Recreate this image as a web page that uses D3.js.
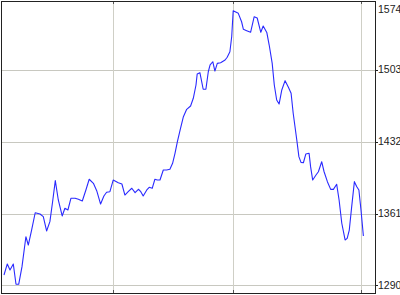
<!DOCTYPE html>
<html><head><meta charset="utf-8">
<script src="https://cdn.jsdelivr.net/npm/d3@7"></script>
<style>html,body{margin:0;padding:0;background:#fff;}svg{display:block;}</style>
</head><body>
<script>
// trading-day index of each vertex
const days = [1.0,2.1,3.0,4.1,5.0,5.9,7.0,8.3,9.1,10.2,11.4,13.0,14.1,15.2,16.3,17.2,18.1,19.1,20.4,21.3,22.3,23.3,24.7,25.8,27.1,28.3,29.4,30.8,31.9,33.2,34.3,35.2,36.3,37.4,39.1,40.3,41.3,42.4,43.6,44.7,45.8,46.6,47.4,48.6,49.4,50.4,51.3,52.1,53.0,54.1,55.2,56.3,57.2,58.0,58.8,59.7,60.8,61.9,63.2,64.1,65.0,65.4,66.3,67.4,68.3,69.1,69.7,70.6,71.3,72.1,73.2,74.7,75.4,76.3,76.9,77.4,79.1,80.2,80.8,81.9,83.2,84.4,85.4,86.6,87.4,88.6,89.4,90.4,91.1,91.9,92.7,93.6,94.7,95.8,96.7,97.4,98.6,99.3,100.0,100.8,101.6,102.7,103.2,103.9,105.0,105.8,106.9,107.7,108.8,109.9,110.8,111.9,112.7,113.6,114.7,115.4,116.1,116.9,117.8,118.6,119.3,120.0,120.8];
// index level at each vertex
const prices = [1300.3,1311.2,1305.2,1311.2,1291.1,1291.1,1308.5,1338.1,1329.9,1344.7,1361.8,1360.6,1357.9,1343.8,1353.0,1372.7,1393.5,1374.4,1358.6,1366.2,1364.5,1376.1,1376.1,1375.1,1373.4,1384.3,1394.9,1390.9,1383.6,1370.4,1378.3,1382.0,1382.6,1394.1,1391.5,1390.2,1379.3,1382.6,1386.0,1381.6,1385.0,1382.6,1378.3,1384.3,1386.9,1385.9,1394.9,1394.1,1394.1,1404.0,1404.0,1404.7,1410.6,1420.5,1432.0,1443.5,1456.7,1464.0,1467.3,1474.9,1488.0,1498.9,1500.2,1483.8,1483.8,1501.1,1507.8,1511.0,1501.8,1509.4,1510.0,1512.7,1515.4,1520.9,1535.7,1561.4,1558.8,1550.5,1543.0,1541.7,1540.1,1555.5,1554.2,1540.1,1546.3,1539.9,1527.5,1509.4,1488.0,1473.2,1469.2,1483.1,1492.3,1485.7,1479.8,1460.1,1433.7,1417.2,1411.6,1411.2,1419.8,1420.5,1407.3,1394.1,1399.1,1402.3,1412.2,1402.3,1392.5,1384.9,1384.9,1389.9,1374.4,1351.4,1334.9,1336.5,1344.7,1367.8,1392.5,1387.5,1384.3,1364.5,1338.8];
const yTicks = [1290,1361,1432,1503,1574];
const xGridDays = [37.4,77.4,119.9];

const W = 400, H = 295;
const L = 1, R = 375, T = 1, B = 293;
const svg = d3.select("body").append("svg").attr("width", W).attr("height", H);

const x = d3.scaleLinear().domain([0,124.67]).range([L,R]);
const y = d3.scaleLinear().domain([1282.5,1571]).range([B,T]);

// gridlines
const g = svg.append("g").attr("shape-rendering","crispEdges");
g.selectAll("line.hg").data(yTicks.filter(v => y(v) > T+2 && y(v) < B-2)).join("line")
  .attr("x1",L).attr("x2",R).attr("y1",d=>Math.round(y(d))+0.5).attr("y2",d=>Math.round(y(d))+0.5)
  .attr("stroke","#c8c8c0");
g.selectAll("line.vg").data(xGridDays).join("line")
  .attr("x1",d=>Math.round(x(d))+0.5).attr("x2",d=>Math.round(x(d))+0.5).attr("y1",T).attr("y2",B)
  .attr("stroke","#cfcfc6");
// small tick marks on the frame at vertical grid positions
g.selectAll("line.bt").data(xGridDays).join("line")
  .attr("x1",d=>Math.round(x(d))+0.5).attr("x2",d=>Math.round(x(d))+0.5).attr("y1",B-3).attr("y2",B)
  .attr("stroke","#555");
g.selectAll("line.tt").data(xGridDays).join("line")
  .attr("x1",d=>Math.round(x(d))+0.5).attr("x2",d=>Math.round(x(d))+0.5).attr("y1",T).attr("y2",T+3)
  .attr("stroke","#555");

// line
const line = d3.line().x((d,i)=>x(days[i])).y(d=>y(d));
svg.append("path").datum(prices).attr("d",line)
  .attr("fill","none").attr("stroke","#2a2aff").attr("stroke-width",1.1).attr("stroke-linejoin","round");

// frame
svg.append("rect").attr("x",L+0.5).attr("y",T+0.5).attr("width",R-L).attr("height",B-T)
  .attr("fill","none").attr("stroke","#222").attr("shape-rendering","crispEdges");

// right axis
const ax = svg.append("g").attr("transform",`translate(${R+0.5},0)`)
  .call(d3.axisRight(y).tickValues(yTicks.filter(v => y(v) > T+2 && y(v) < B-2)).tickSize(2).tickFormat(""));
ax.select(".domain").remove();
ax.selectAll("line").attr("stroke","#222").attr("shape-rendering","crispEdges");

svg.append("g").selectAll("text").data(yTicks).join("text")
  .attr("x",R+3).attr("y",d=>Math.max(9, Math.min(288, y(d))))
  .attr("dy","0.35em")
  .attr("font-family","'Liberation Sans', Arial, sans-serif").attr("font-size","10.5px")
  .attr("fill","#222").text(d=>d);
</script>
</body></html>
